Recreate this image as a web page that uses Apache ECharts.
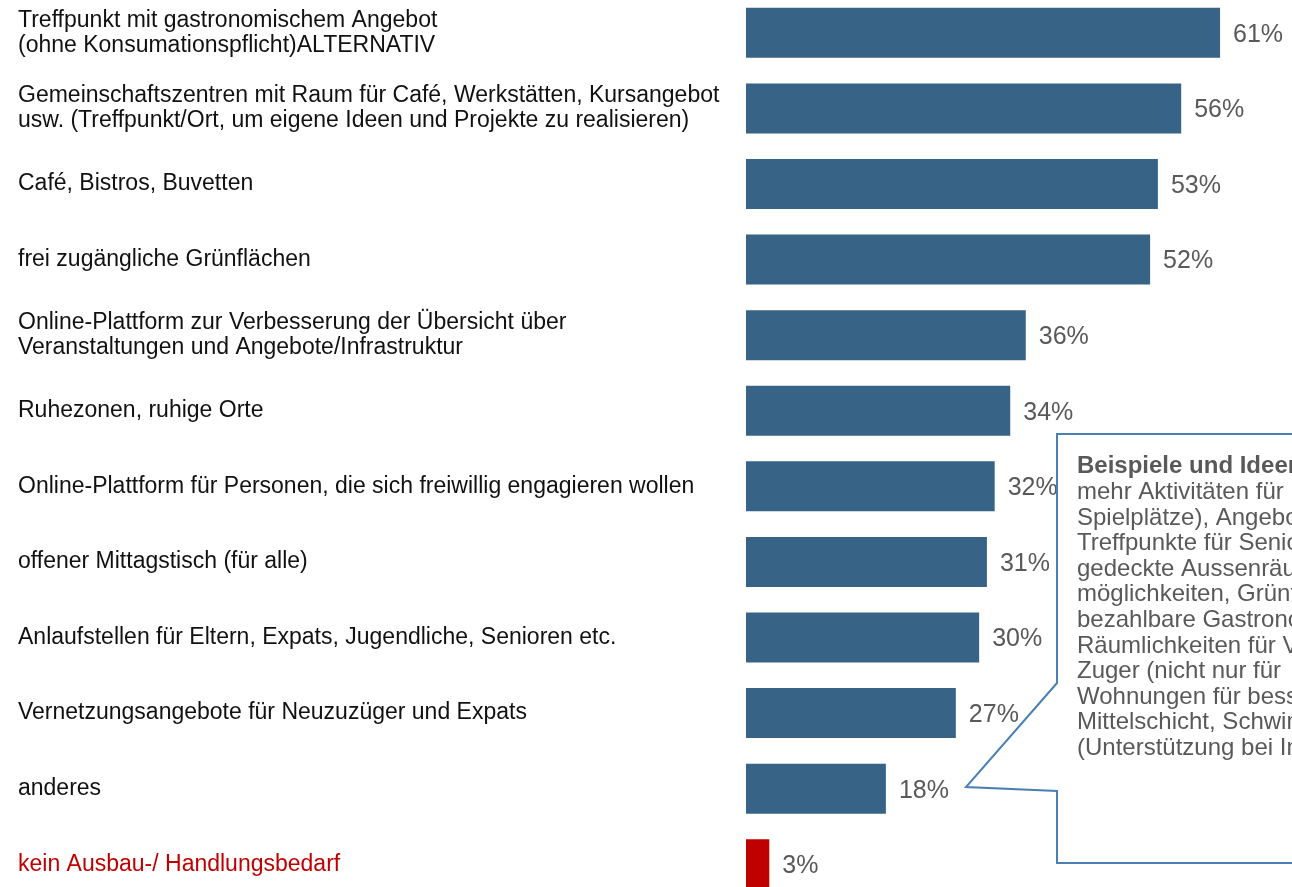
<!DOCTYPE html>
<html>
<head>
<meta charset="utf-8">
<script src="https://cdn.jsdelivr.net/npm/echarts@6/dist/echarts.min.js"></script>
<style>
  html, body { margin: 0; padding: 0; background: #fff; overflow: hidden; }
  /* chart is a bit taller than the window so the outer rows get clipped like in the original */
  #chart { position: absolute; left: 0; top: -5px; width: 1292px; height: 907px; }
</style>
</head>
<body>
<div id="chart"></div>
<script>
// categories, top to bottom
const categories = [
  'Treffpunkt mit gastronomischem Angebot\n(ohne Konsumationspflicht)ALTERNATIV',
  'Gemeinschaftszentren mit Raum für Café, Werkstätten, Kursangebot\nusw. (Treffpunkt/Ort, um eigene Ideen und Projekte zu realisieren)',
  'Café, Bistros, Buvetten',
  'frei zugängliche Grünflächen',
  'Online-Plattform zur Verbesserung der Übersicht über\nVeranstaltungen und Angebote/Infrastruktur',
  'Ruhezonen, ruhige Orte',
  'Online-Plattform für Personen, die sich freiwillig engagieren wollen',
  'offener Mittagstisch (für alle)',
  'Anlaufstellen für Eltern, Expats, Jugendliche, Senioren etc.',
  'Vernetzungsangebote für Neuzuzüger und Expats',
  'anderes',
  'kein Ausbau-/ Handlungsbedarf'
]
const values = [61, 56, 53, 52, 36, 34, 32, 31, 30, 27, 18, 3]

// text of the callout next to "anderes" (clipped at the right edge)
const calloutTitle = 'Beispiele und Ideen:'
const calloutLines = [
  'mehr Aktivitäten für Kinder',
  'Spielplätze), Angebote',
  'Treffpunkte für Senioren',
  'gedeckte Aussenräume',
  'möglichkeiten, Grünflächen',
  'bezahlbare Gastronomie',
  'Räumlichkeiten für Vereine',
  'Zuger (nicht nur für',
  'Wohnungen für bessere',
  'Mittelschicht, Schwimmbad',
  '(Unterstützung bei Integration'
]

const barColor = '#376387'
const redColor = '#C00000'
const lastIdx = categories.length - 1
const dy = 5 // canvas offset (see #chart top)

let chart = echarts.init(document.getElementById('chart'))
let option = {
  animation: false,
  grid: { left: 746, right: 2, top: 0, bottom: 0 },
  xAxis: { type: 'value', min: 0, max: 70, show: false },
  yAxis: {
    type: 'category',
    inverse: true,
    data: categories,
    axisLine: { show: false },
    axisTick: { show: false },
    splitLine: { show: false },
    axisLabel: {
      margin: 728,
      align: 'left',
      padding: [6, 0, 0, 0],
      fontFamily: 'Liberation Sans',
      fontSize: 23,
      lineHeight: 25,
      color: function (value, index) {
        return index === lastIdx ? redColor : '#111111'
      }
    }
  },
  series: [
    {
      type: 'bar',
      barWidth: 50,
      data: values.map(function (v, i) {
        return { value: v, itemStyle: { color: i === lastIdx ? redColor : barColor } }
      }),
      label: {
        show: true,
        position: 'right',
        distance: 13,
        offset: [0, 2],
        formatter: '{c}%',
        fontFamily: 'Liberation Sans',
        fontSize: 25,
        color: '#595959'
      }
    }
  ],
  graphic: [
    {
      type: 'polygon',
      z: 100,
      shape: {
        points: [[1057, 434 + dy], [1310, 434 + dy], [1310, 863 + dy], [1057, 863 + dy],
          [1057, 791 + dy], [966, 787 + dy], [1057, 683 + dy]]
      },
      style: { fill: '#ffffff', stroke: '#4A80B3', lineWidth: 2 }
    },
    {
      type: 'text',
      z: 101,
      x: 1077,
      y: 454 + dy,
      style: {
        text: '{b|' + calloutTitle + '}\n' + calloutLines.join('\n'),
        fontFamily: 'Liberation Sans',
        fontSize: 24,
        lineHeight: 25.6,
        fill: '#595959',
        verticalAlign: 'top',
        rich: {
          b: { fontWeight: 'bold', fontFamily: 'Liberation Sans', fontSize: 24, lineHeight: 25.6, fill: '#595959', color: '#595959' }
        }
      }
    }
  ]
}
chart.setOption(option, true)
</script>
</body>
</html>
